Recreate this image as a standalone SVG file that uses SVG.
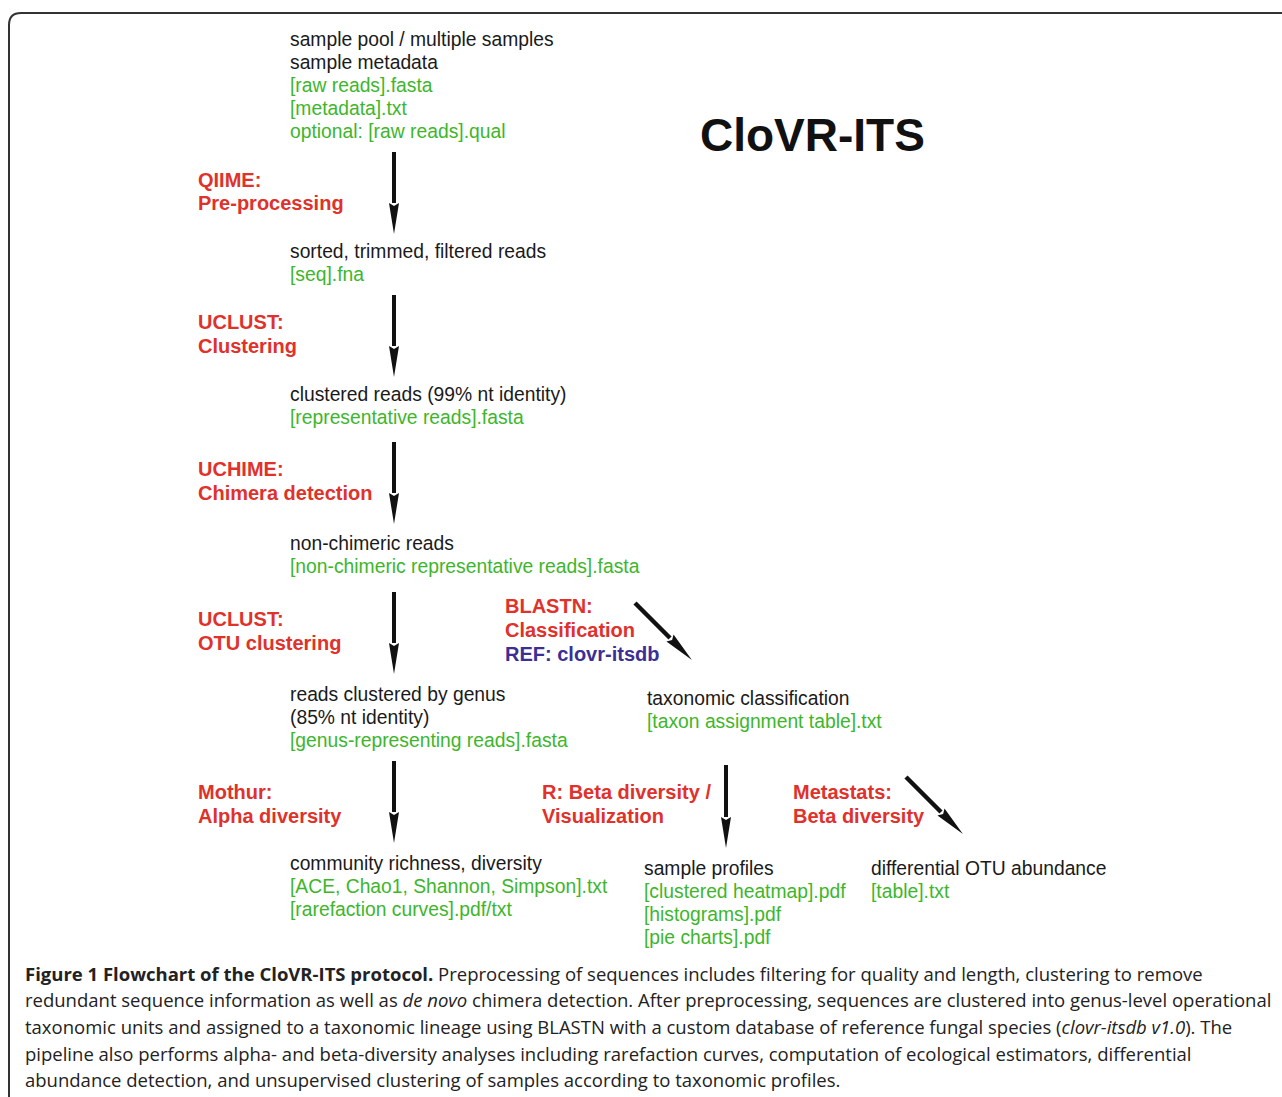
<svg xmlns="http://www.w3.org/2000/svg" width="1282" height="1097" viewBox="0 0 1282 1097">
<style>
text{font-family:"Liberation Sans",Arial,sans-serif;font-size:19.3px}
.k{fill:#1a1a1a}
.g{fill:#3db62b}
.r{fill:#e0312b;font-weight:bold;font-size:20px}
.b{fill:#3b2f96;font-weight:bold;font-size:20px}
.title{font-size:46px;font-weight:bold;fill:#111}
.cap{font-family:"Open Sans","Noto Sans",sans-serif;font-size:18.5px;fill:#222}
.arr{stroke:#111;stroke-width:4;fill:none;marker-end:url(#ah)}
</style>
<defs>
<marker id="ah" markerUnits="userSpaceOnUse" markerWidth="34" markerHeight="14" refX="0" refY="6" orient="auto" viewBox="0 0 34 12">
<path d="M0,1 L31,6 L0,11 L3,6 z" fill="#111"/>
</marker>
</defs>
<rect x="0" y="0" width="1282" height="1097" fill="#fff"/>
<path d="M9,1097 L9,25 Q9,13 21,13 L1282,13" fill="none" stroke="#333" stroke-width="2"/>

<g id="connectors">
<line class="arr" x1="394" y1="152" x2="394" y2="203"/>
<line class="arr" x1="394" y1="295" x2="394" y2="346"/>
<line class="arr" x1="394" y1="442" x2="394" y2="493"/>
<line class="arr" x1="394" y1="592" x2="394" y2="643"/>
<line class="arr" x1="394" y1="761" x2="394" y2="812"/>
<line class="arr" x1="726" y1="765" x2="726" y2="817"/>
<line class="arr" x1="635" y1="603" x2="670" y2="638" style="stroke-width:4.5"/>
<line class="arr" x1="906" y1="777" x2="941" y2="812" style="stroke-width:4.5"/>
</g>

<g id="title"><text class="title" x="700" y="151">CloVR-ITS</text></g>

<g id="n-input">
<text class="k" x="290" y="46">sample pool / multiple samples</text>
<text class="k" x="290" y="69">sample metadata</text>
<text class="g" x="290" y="92">[raw reads].fasta</text>
<text class="g" x="290" y="115">[metadata].txt</text>
<text class="g" x="290" y="138">optional: [raw reads].qual</text>
</g>
<g id="l-qiime"><text class="r" x="198" y="187">QIIME:</text><text class="r" x="198" y="210">Pre-processing</text></g>
<g id="n-sorted">
<text class="k" x="290" y="258">sorted, trimmed, filtered reads</text>
<text class="g" x="290" y="281">[seq].fna</text>
</g>
<g id="l-uclust1"><text class="r" x="198" y="329">UCLUST:</text><text class="r" x="198" y="353">Clustering</text></g>
<g id="n-clustered">
<text class="k" x="290" y="401">clustered reads (99% nt identity)</text>
<text class="g" x="290" y="424">[representative reads].fasta</text>
</g>
<g id="l-uchime"><text class="r" x="198" y="476">UCHIME:</text><text class="r" x="198" y="500">Chimera detection</text></g>
<g id="n-nonchim">
<text class="k" x="290" y="550">non-chimeric reads</text>
<text class="g" x="290" y="573">[non-chimeric representative reads].fasta</text>
</g>
<g id="l-uclust2"><text class="r" x="198" y="626">UCLUST:</text><text class="r" x="198" y="650">OTU clustering</text></g>
<g id="l-blastn"><text class="r" x="505" y="613">BLASTN:</text><text class="r" x="505" y="637">Classification</text><text class="b" x="505" y="661">REF: clovr-itsdb</text></g>
<g id="n-genus">
<text class="k" x="290" y="701">reads clustered by genus</text>
<text class="k" x="290" y="724">(85% nt identity)</text>
<text class="g" x="290" y="747">[genus-representing reads].fasta</text>
</g>
<g id="n-taxon">
<text class="k" x="647" y="705">taxonomic classification</text>
<text class="g" x="647" y="728">[taxon assignment table].txt</text>
</g>
<g id="l-mothur"><text class="r" x="198" y="799">Mothur:</text><text class="r" x="198" y="823">Alpha diversity</text></g>
<g id="l-r"><text class="r" x="542" y="799">R: Beta diversity /</text><text class="r" x="542" y="823">Visualization</text></g>
<g id="l-metastats"><text class="r" x="793" y="799">Metastats:</text><text class="r" x="793" y="823">Beta diversity</text></g>
<g id="n-richness">
<text class="k" x="290" y="870">community richness, diversity</text>
<text class="g" x="290" y="893">[ACE, Chao1, Shannon, Simpson].txt</text>
<text class="g" x="290" y="916">[rarefaction curves].pdf/txt</text>
</g>
<g id="n-profiles">
<text class="k" x="644" y="875">sample profiles</text>
<text class="g" x="644" y="898">[clustered heatmap].pdf</text>
<text class="g" x="644" y="921">[histograms].pdf</text>
<text class="g" x="644" y="944">[pie charts].pdf</text>
</g>
<g id="n-diff">
<text class="k" x="871" y="875">differential OTU abundance</text>
<text class="g" x="871" y="898">[table].txt</text>
</g>

<g id="caption">
<text class="cap" x="25" y="981"><tspan font-weight="bold">Figure 1 Flowchart of the CloVR-ITS protocol.</tspan> Preprocessing of sequences includes filtering for quality and length, clustering to remove</text>
<text class="cap" x="25" y="1007">redundant sequence information as well as <tspan font-style="italic">de novo</tspan> chimera detection. After preprocessing, sequences are clustered into genus-level operational</text>
<text class="cap" x="25" y="1034">taxonomic units and assigned to a taxonomic lineage using BLASTN with a custom database of reference fungal species (<tspan font-style="italic">clovr-itsdb v1.0</tspan>). The</text>
<text class="cap" x="25" y="1061">pipeline also performs alpha- and beta-diversity analyses including rarefaction curves, computation of ecological estimators, differential</text>
<text class="cap" x="25" y="1087">abundance detection, and unsupervised clustering of samples according to taxonomic profiles.</text>
</g>
</svg>
